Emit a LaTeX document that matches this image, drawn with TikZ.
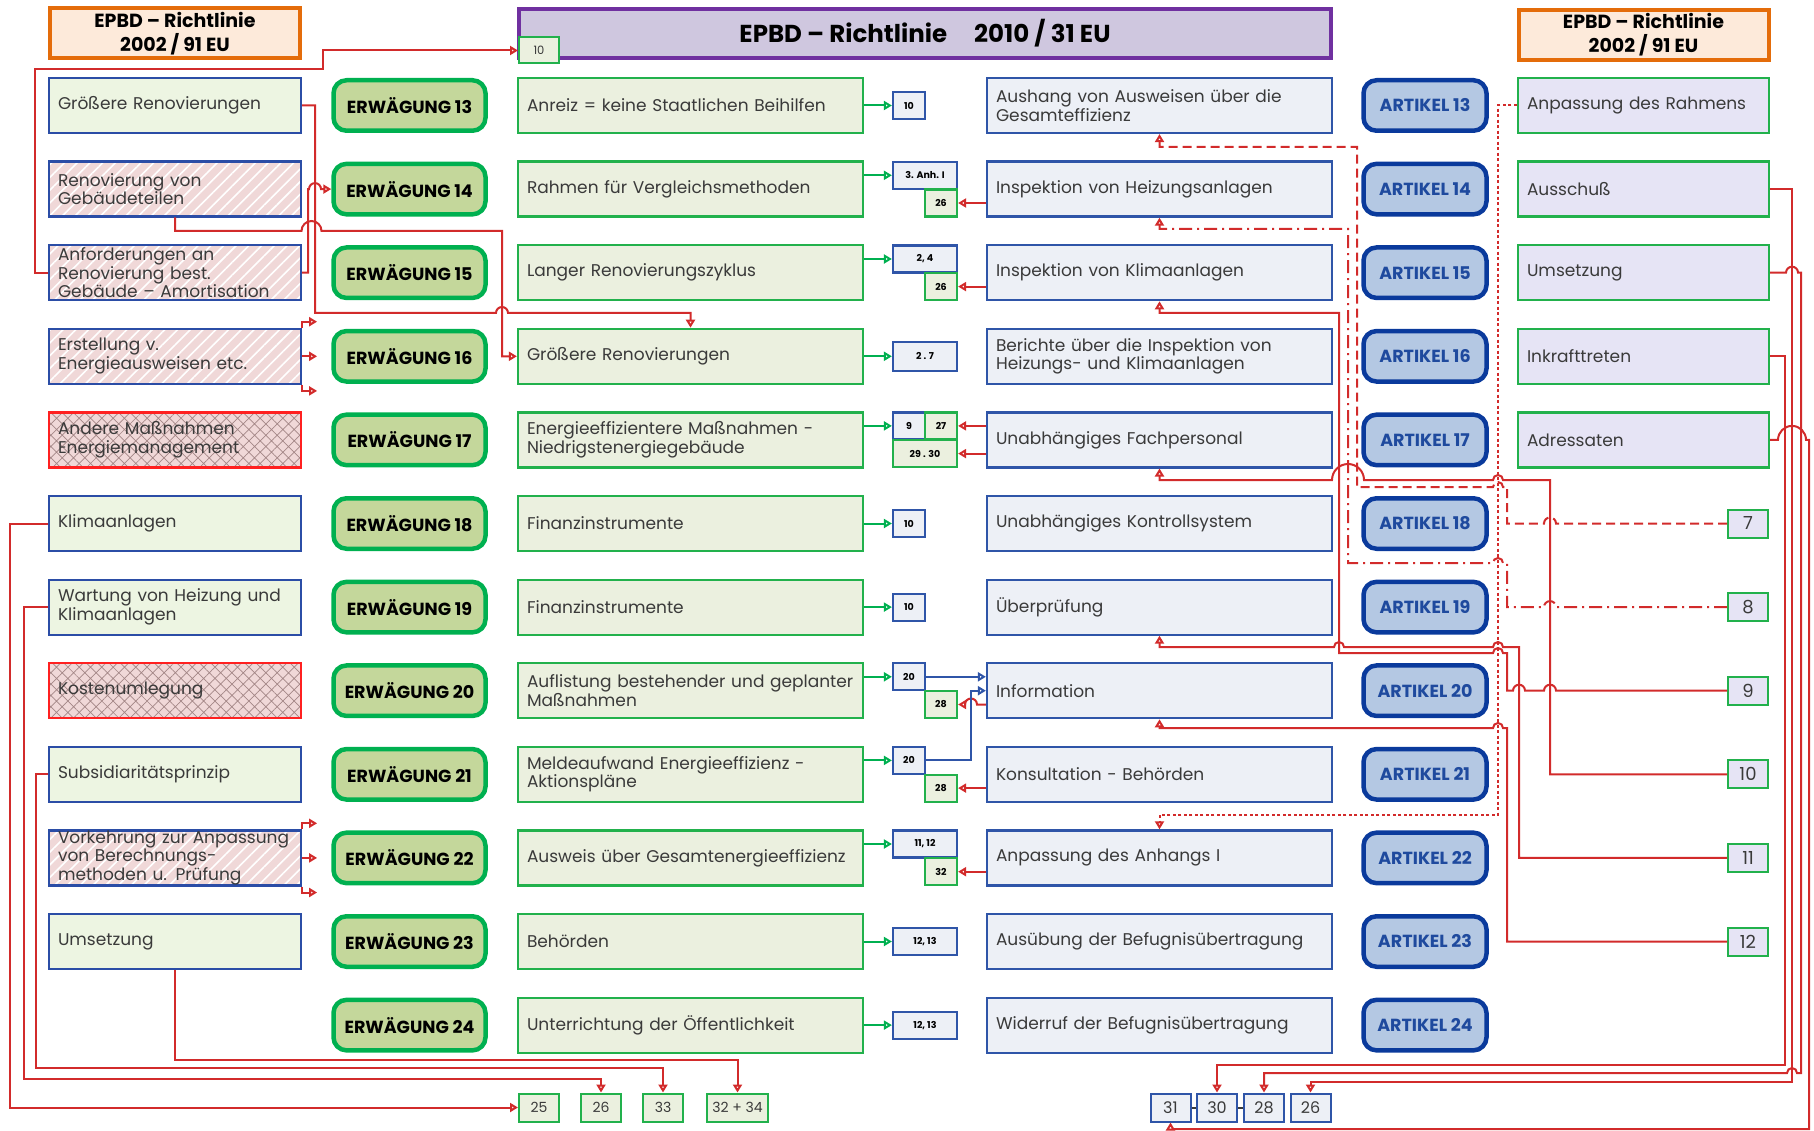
\documentclass[tikz,border=0pt]{standalone}
\usepackage{fontspec}
\setmainfont{Poppins}
\usetikzlibrary{arrows.meta,patterns.meta}

\definecolor{hdrorange}{HTML}{E46C0A}
\definecolor{hdrfill}{HTML}{FDEADA}
\definecolor{ttlpurple}{HTML}{7030A0}
\definecolor{ttlfill}{HTML}{CFC7DF}
\definecolor{oldblue}{HTML}{2B4DA6}
\definecolor{oldgreen}{HTML}{EDF5E2}
\definecolor{pinkfill}{HTML}{F0D8D8}
\definecolor{crossred}{HTML}{FF2020}
\definecolor{crossgrey}{HTML}{A38686}
\definecolor{erwgreen}{HTML}{00B050}
\definecolor{erwfill}{HTML}{C4D79B}
\definecolor{recgreen}{HTML}{22B14C}
\definecolor{recfill}{HTML}{EBF0DF}
\definecolor{topicblue}{HTML}{2F55A8}
\definecolor{topicfill}{HTML}{EDF0F6}
\definecolor{artblue}{HTML}{0A3A9C}
\definecolor{artfill}{HTML}{B4C8E3}
\definecolor{arttext}{HTML}{1F4A9E}
\definecolor{lavender}{HTML}{E6E4F5}
\definecolor{linkred}{HTML}{D22B2B}
\definecolor{txtgrey}{HTML}{3A3A3A}

\tikzset{
  hdr/.style={draw=hdrorange, fill=hdrfill, line width=4pt, minimum width=250pt, minimum height=50pt, inner sep=0pt, align=center, font=\bfseries\fontsize{19}{24}\selectfont},
  titlebox/.style={draw=ttlpurple, fill=ttlfill, line width=4pt, minimum width=812pt, minimum height=49pt, inner sep=0pt, font=\bfseries\fontsize{24.5}{27}\selectfont},
  cell/.style={line width=2.2pt, minimum height=55pt, inner xsep=9pt, inner ysep=0pt, align=left, text=txtgrey, font=\fontsize{17}{18.8}\selectfont},
  oldbox/.style={cell, draw=oldblue, fill=oldgreen, text width=234pt},
  hatchbox/.style={cell, draw=oldblue, text width=234pt, preaction={fill=pinkfill}, pattern={Lines[angle=45,distance=9pt,line width=1.6pt]}, pattern color=white},
  crossbox/.style={cell, draw=crossred, text width=234pt, preaction={fill=pinkfill}, pattern={Hatch[angle=45,distance=8pt,line width=0.7pt]}, pattern color=crossgrey},
  erw/.style={draw=erwgreen, fill=erwfill, line width=4.5pt, rounded corners=13pt, minimum width=152pt, minimum height=50.5pt, inner sep=0pt, font=\bfseries\fontsize{17.5}{20}\selectfont},
  rec/.style={cell, draw=recgreen, fill=recfill, text width=327pt},
  topic/.style={cell, draw=topicblue, fill=topicfill, text width=327pt},
  art/.style={erw, draw=artblue, fill=artfill, minimum width=123pt, text=arttext},
  oldart/.style={cell, draw=recgreen, fill=lavender, text width=233pt},
  numb/.style={draw=topicblue, fill=topicfill, line width=2.2pt, minimum width=32pt, minimum height=27pt, inner sep=0pt, font=\bfseries\fontsize{9.5}{11}\selectfont},
  numg/.style={numb, draw=recgreen, fill=recfill},
  refg/.style={draw=recgreen, fill=recfill, line width=2pt, minimum width=40pt, minimum height=28pt, inner sep=0pt, text=txtgrey, font=\fontsize{14}{16}\selectfont},
  refb/.style={refg, draw=topicblue, fill=topicfill, font=\fontsize{16}{18}\selectfont},
  refl/.style={refg, fill=lavender, font=\fontsize{18}{20}\selectfont},
  link/.style={draw=linkred, line width=2pt, -{Triangle[length=8pt,width=9pt,fill=white]}},
  greenlink/.style={link, draw=erwgreen},
  bluelink/.style={link, draw=topicblue},
  dashlink/.style={dash pattern=on 9pt off 5pt},
  chainlink/.style={dash pattern=on 13pt off 5pt on 2pt off 5pt},
  dotlink/.style={dash pattern=on 3pt off 2.5pt}
}

\begin{document}
\begin{tikzpicture}[x=1pt, y=-1pt]
		\useasboundingbox (0,0) rectangle (1814,1131);
		
		%headers
		\node (hdrl) at (175,33.5) [hdr]{EPBD – Richtlinie\\2002 / 91 EU};
		\node (hdrr) at (1643.5,35) [hdr]{EPBD – Richtlinie\\2002 / 91 EU};
		\node (title) at (925,33.5) [titlebox]{EPBD – Richtlinie\hspace{1.1em}2010 / 31 EU};
		\node (top10) at (539,50.5) [refg, minimum height=26pt, font=\fontsize{11.5}{13}\selectfont]{10};
		
		%recitals and articles
		\foreach \n in {13,...,24}{
			\node (erw\n) at (409.5, {105.5+83.6*(\n-13)}) [erw]{ERWÄGUNG \n};
			\node (art\n) at (1425, {105.5+83.6*(\n-13)}) [art]{ARTIKEL \n};
		}
		
		%old directive, left
		\node (alt13) at (175,105.5) [oldbox]{Größere Renovierungen};
		\node (alt14) at (175,189.1) [hatchbox]{Renovierung von\\Gebäudeteilen};
		\node (alt15) at (175,272.7) [hatchbox]{Anforderungen an\\Renovierung best.\\Gebäude – Amortisation};
		\node (alt16) at (175,356.3) [hatchbox]{Erstellung v.\\Energieausweisen etc.};
		\node (alt17) at (175,439.9) [crossbox]{Andere Maßnahmen\\Energiemanagement};
		\node (alt18) at (175,523.5) [oldbox]{Klimaanlagen};
		\node (alt19) at (175,607.1) [oldbox]{Wartung von Heizung und\\Klimaanlagen};
		\node (alt20) at (175,690.7) [crossbox]{Kostenumlegung};
		\node (alt21) at (175,774.3) [oldbox]{Subsidiaritätsprinzip};
		\node (alt22) at (175,857.9) [hatchbox]{Vorkehrung zur Anpassung\\von Berechnungs-\\methoden u. Prüfung};
		\node (alt23) at (175,941.5) [oldbox]{Umsetzung};
		
		%recital topics
		\node (rec13) at (690.5,105.5) [rec]{Anreiz = keine Staatlichen Beihilfen};
		\node (rec14) at (690.5,189.1) [rec]{Rahmen für Vergleichsmethoden};
		\node (rec15) at (690.5,272.7) [rec]{Langer Renovierungszyklus};
		\node (rec16) at (690.5,356.3) [rec]{Größere Renovierungen};
		\node (rec17) at (690.5,439.9) [rec]{Energieeffizientere Maßnahmen -\\Niedrigstenergiegebäude};
		\node (rec18) at (690.5,523.5) [rec]{Finanzinstrumente};
		\node (rec19) at (690.5,607.1) [rec]{Finanzinstrumente};
		\node (rec20) at (690.5,690.7) [rec]{Auflistung bestehender und geplanter\\Maßnahmen};
		\node (rec21) at (690.5,774.3) [rec]{Meldeaufwand Energieeffizienz -\\Aktionspläne};
		\node (rec22) at (690.5,857.9) [rec]{Ausweis über Gesamtenergieeffizienz};
		\node (rec23) at (690.5,941.5) [rec]{Behörden};
		\node (rec24) at (690.5,1025.1) [rec]{Unterrichtung der Öffentlichkeit};
		
		%article topics
		\node (topic13) at (1159.5,105.5) [topic]{Aushang von Ausweisen über die\\Gesamteffizienz};
		\node (topic14) at (1159.5,189.1) [topic]{Inspektion von Heizungsanlagen};
		\node (topic15) at (1159.5,272.7) [topic]{Inspektion von Klimaanlagen};
		\node (topic16) at (1159.5,356.3) [topic]{Berichte über die Inspektion von\\Heizungs- und Klimaanlagen};
		\node (topic17) at (1159.5,439.9) [topic]{Unabhängiges Fachpersonal};
		\node (topic18) at (1159.5,523.5) [topic]{Unabhängiges Kontrollsystem};
		\node (topic19) at (1159.5,607.1) [topic]{Überprüfung};
		\node (topic20) at (1159.5,690.7) [topic]{Information};
		\node (topic21) at (1159.5,774.3) [topic]{Konsultation - Behörden};
		\node (topic22) at (1159.5,857.9) [topic]{Anpassung des Anhangs I};
		\node (topic23) at (1159.5,941.5) [topic]{Ausübung der Befugnisübertragung};
		\node (topic24) at (1159.5,1025.1) [topic]{Widerruf der Befugnisübertragung};
		
		%old directive, right
		\node (old13) at (1643.5,105.5) [oldart]{Anpassung des Rahmens};
		\node (old14) at (1643.5,189.1) [oldart]{Ausschuß};
		\node (old15) at (1643.5,272.7) [oldart]{Umsetzung};
		\node (old16) at (1643.5,356.3) [oldart]{Inkrafttreten};
		\node (old17) at (1643.5,439.9) [oldart]{Adressaten};
		
		%article numbers
		\node (nb13) at (909,105.5) [numb]{10};
		\node (nb14) at (925,175.3) [numb, minimum width=64pt]{3. Anh. I};
		\node (ng14) at (941,203) [numg]{26};
		\node (nb15) at (925,259) [numb, minimum width=64pt]{2, 4};
		\node (ng15) at (941,286.6) [numg]{26};
		\node (nb16) at (925,356.3) [numb, minimum width=64pt, minimum height=29pt]{2 . 7};
		\node (nb17) at (909,425.9) [numb]{9};
		\node (ng17a) at (941,425.9) [numg]{27};
		\node (ng17b) at (925,453.6) [numg, minimum width=64pt]{29 . 30};
		\node (nb18) at (909,523.5) [numb]{10};
		\node (nb19) at (909,607.1) [numb]{10};
		\node (nb20) at (909,676.8) [numb]{20};
		\node (ng20) at (941,704.5) [numg]{28};
		\node (nb21) at (909,760.4) [numb]{20};
		\node (ng21) at (941,788.1) [numg]{28};
		\node (nb22) at (925,844) [numb, minimum width=64pt]{11, 12};
		\node (ng22) at (941,871.7) [numg]{32};
		\node (nb23) at (925,941.5) [numb, minimum width=64pt]{12, 13};
		\node (nb24) at (925,1025.1) [numb, minimum width=64pt]{12, 13};
		
		%right references
		\node (ar7) at (1748,523.5) [refl]{7};
		\node (ar8) at (1748,607.1) [refl]{8};
		\node (ar9) at (1748,690.7) [refl]{9};
		\node (ar10) at (1748,774.3) [refl]{10};
		\node (ar11) at (1748,857.9) [refl]{11};
		\node (ar12) at (1748,941.5) [refl]{12};
		
		%bottom references
		\node (lo25) at (539,1107.5) [refg]{25};
		\node (lo26) at (601,1107.5) [refg]{26};
		\node (lo33) at (663,1107.5) [refg]{33};
		\node (lo3234) at (737.5,1107.5) [refg, minimum width=61pt]{32 + 34};
		\node (ro31) at (1170.5,1107.5) [refb]{31};
		\node (ro30) at (1217,1107.5) [refb]{30};
		\node (ro28) at (1264,1107.5) [refb]{28};
		\node (ro26) at (1310.5,1107.5) [refb]{26};
		\draw[txtgrey, line width=2pt] (ro31.east) -- (ro30.west);
		\draw[txtgrey, line width=2pt] (ro30.east) -- (ro28.west);
		
		%recital to article number
		\foreach \n in {13,...,24}{
			\draw[greenlink] (rec\n.east |- nb\n) -- (nb\n.west);
		}
		\foreach \n in {14,15,21,22}{
			\draw[link] (topic\n.west |- ng\n) -- (ng\n.east);
		}
		\draw[link] (topic17.west |- ng17a) -- (ng17a.east);
		\draw[link] (topic17.west |- ng17b) -- (ng17b.east);
		\draw[link] (topic20.west |- ng20) -- (977,704.5) arc[start angle=0, end angle=180, radius=6pt] -- (ng20.east);
		\draw[bluelink] (nb20.east) -- (nb20.east -| topic20.west);
		\draw[bluelink] (nb21.east) -| (971,690.7) -- (topic20.west);
		
		%left links
		\draw[link] (alt15.west) -| (35,69) -| (323,50.5) -- (top10.west);
		\draw[link] (alt13.east) -| (315,313) -- (496,313) arc[start angle=180, end angle=0, radius=6pt] -| (rec16.north);
		\draw[link] (alt14.south) |- (301.5,231) arc[start angle=180, end angle=0, radius=10pt] -| (502,356.3) -- (rec16.west);
		\draw[link] (alt15.east) -| (308,189.1) -- (309,189.1) arc[start angle=180, end angle=0, radius=6pt] -- (erw14.west);
		\foreach \a in {alt16, alt22}{
			\draw[link] (\a.north east) -- ++(0,-6) -- ++(15,0);
			\draw[link] (\a.east) -- ++(15,0);
			\draw[link] (\a.south east) -- ++(0,6) -- ++(15,0);
		}
		\draw[link] (alt18.west) -| (10,1107.5) -- (lo25.west);
		\draw[link] (alt19.west) -| (24,1079) -| (lo26.north);
		\draw[link] (alt21.west) -| (36,1068) -| (lo33.north);
		\draw[link] (alt23.south) |- (737.5,1060) -- (lo3234.north);
		
		%right links
		\draw[link, dashlink] (ar7.west) -- (1556,523.5) arc[start angle=0, end angle=180, radius=6pt] -- (1507,523.5) -- (1507,487) -- (1503,487) arc[start angle=0, end angle=180, radius=5pt] -- (1357,487) -- (1357,147) -| (topic13.south);
		\draw[link, chainlink] (ar8.west) -- (1556,607.1) arc[start angle=0, end angle=180, radius=6pt] -- (1507,607.1) -- (1507,563) -- (1503,563) arc[start angle=0, end angle=180, radius=5pt] -- (1348,563) -- (1348,229) -| (topic14.south);
		\draw[link] (ar9.west) -- (1556,690.7) arc[start angle=0, end angle=180, radius=6pt] -- (1525,690.7) arc[start angle=0, end angle=180, radius=6pt] -- (1507,690.7) -- (1507,653) -- (1503,653) arc[start angle=0, end angle=180, radius=5pt] -- (1339,653) -- (1339,313) -| (topic15.south);
		\draw[link] (ar10.west) -| (1550,480) -- (1503,480) arc[start angle=0, end angle=180, radius=5pt] -- (1364,480) arc[start angle=0, end angle=180, radius=16pt] -| (topic17.south);
		\draw[link] (ar11.west) -| (1519,647) -- (1503,647) arc[start angle=0, end angle=180, radius=5pt] -- (1344,647) arc[start angle=0, end angle=180, radius=5pt] -| (topic19.south);
		\draw[link] (ar12.west) -| (1507,728) -- (1503,728) arc[start angle=0, end angle=180, radius=5pt] -| (topic20.south);
		\draw[link, dotlink] (old13.west) -| (1498,815) -| (topic22.north);
		
		%old directive to bottom
		\draw[link] (old14.east) -| (1792,1082) -| (ro26.north);
		\draw[link] (old15.east) -- (1786,272.7) arc[start angle=180, end angle=0, radius=6pt] -| (1801,1073) -- (1797,1073) arc[start angle=0, end angle=180, radius=5pt] -| (ro28.north);
		\draw[link] (old16.east) -| (1785,1065) -| (ro30.north);
		\draw[link] (old17.east) -- (1778,439.9) arc[start angle=180, end angle=0, radius=14pt] -| (1809,1129) -| (ro31.south);
		\end{tikzpicture}
\end{document}
